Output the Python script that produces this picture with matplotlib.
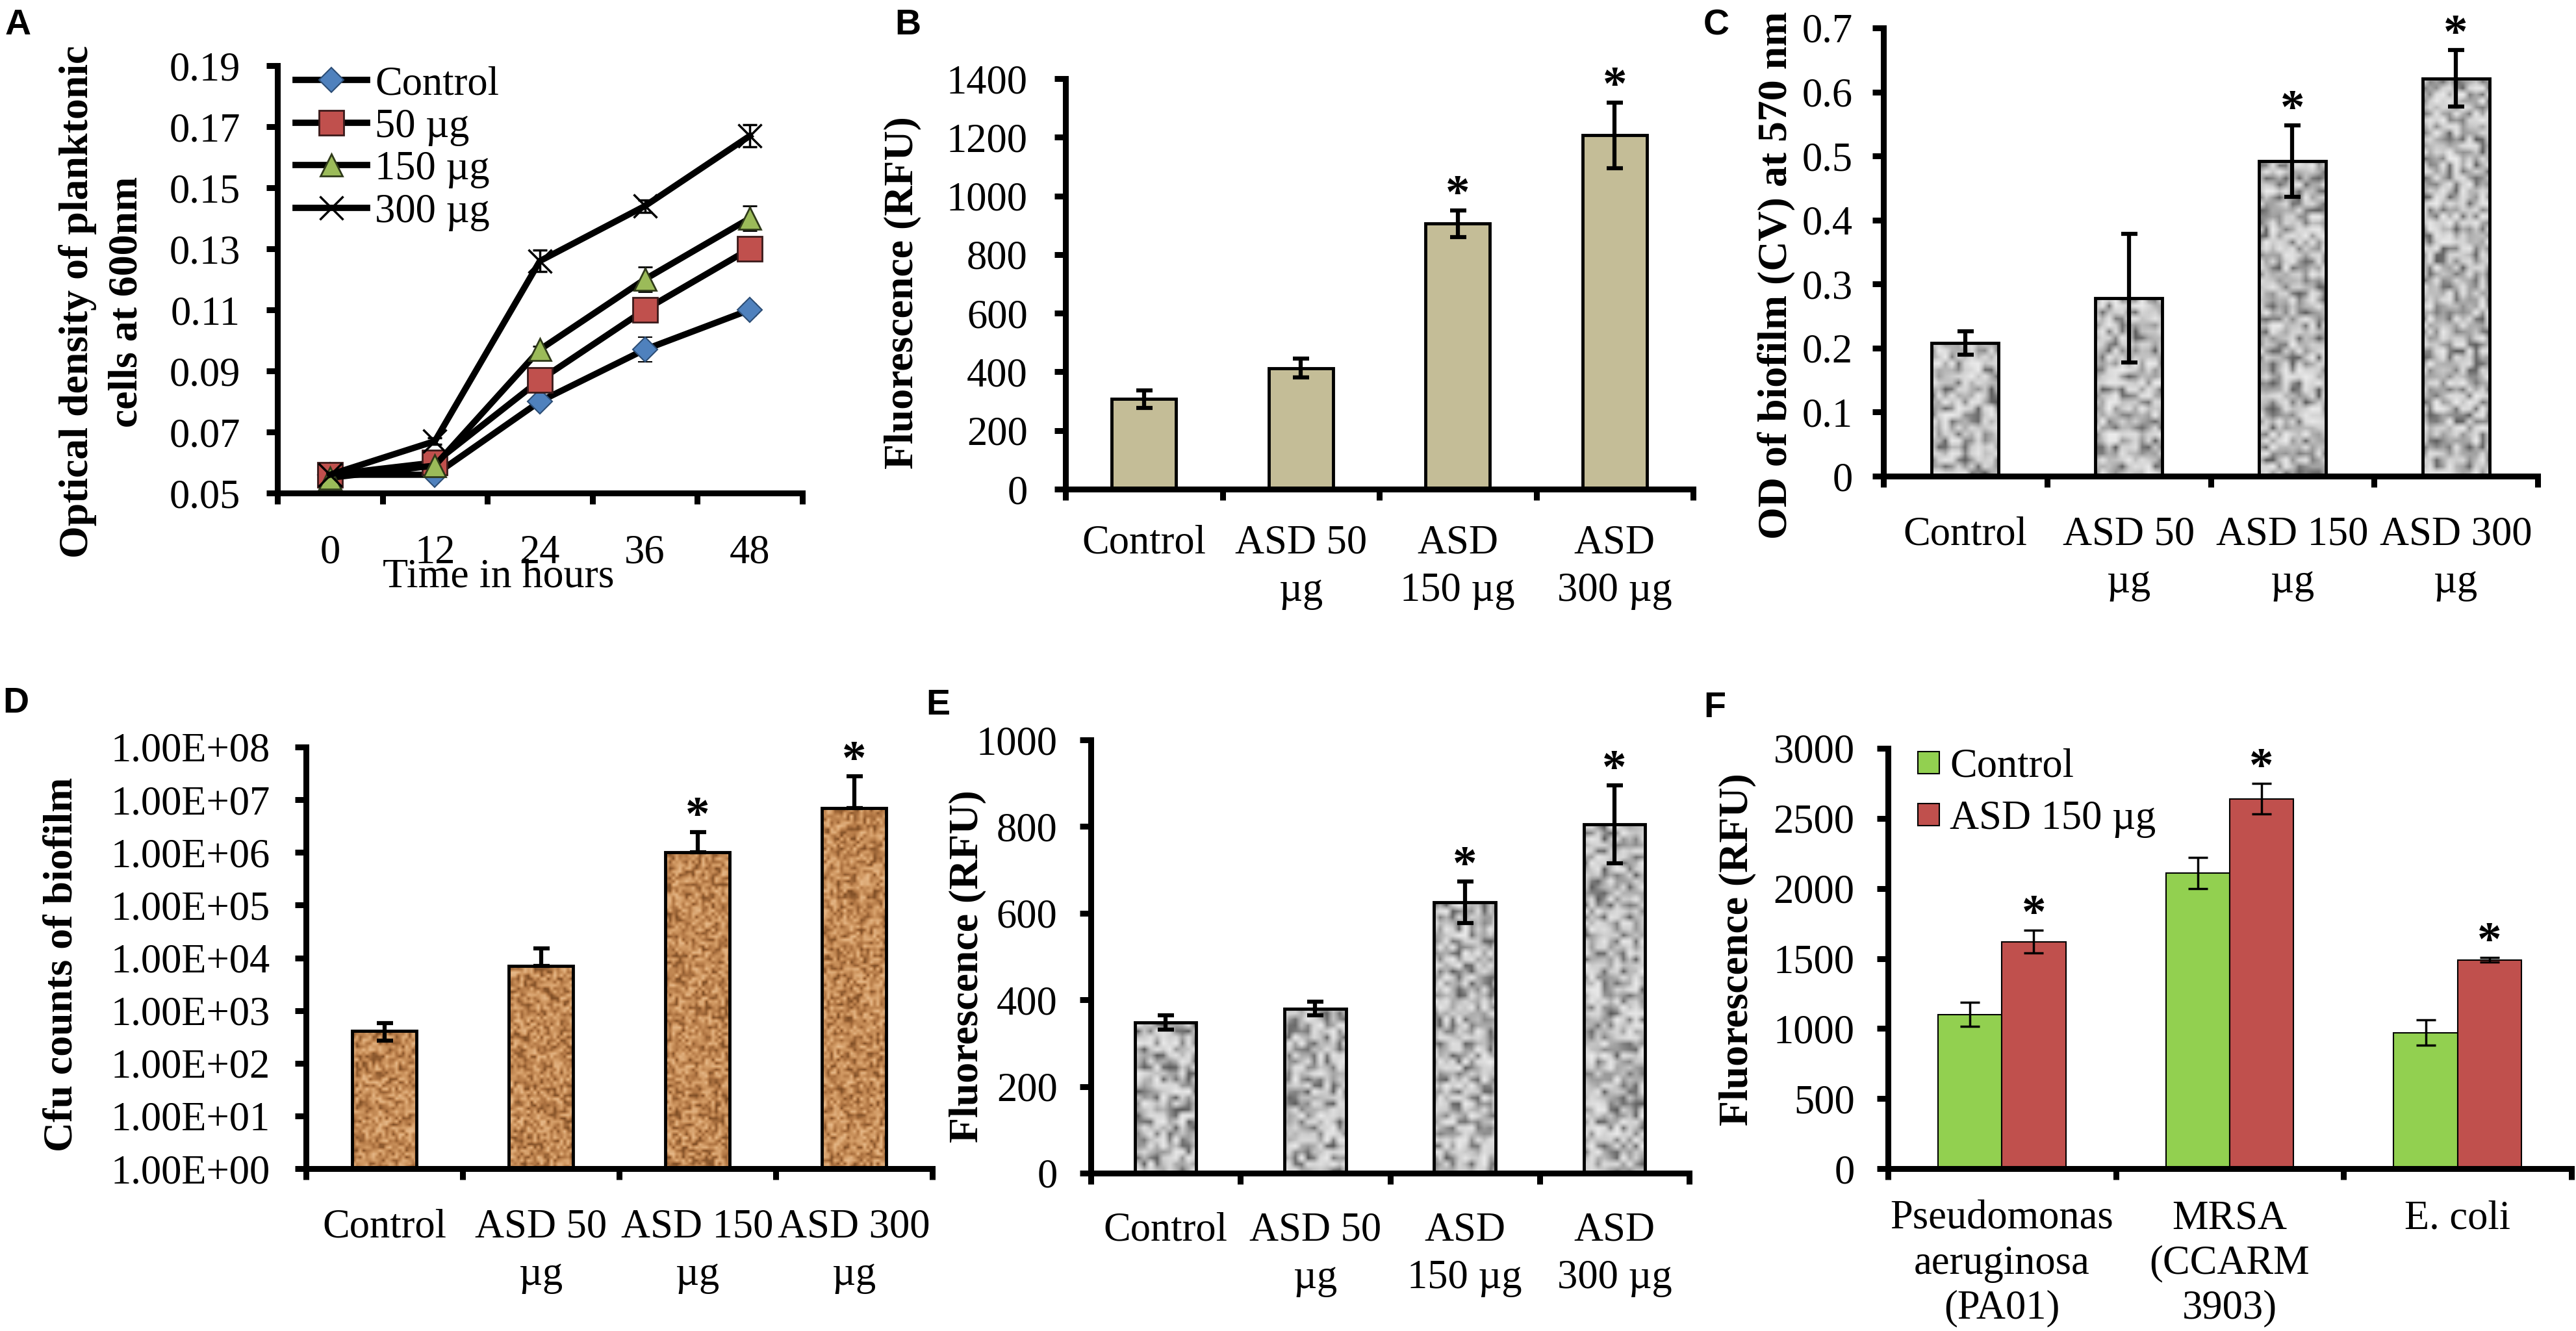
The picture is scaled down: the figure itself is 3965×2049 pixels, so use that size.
import numpy as np
import matplotlib
matplotlib.use('Agg')
import matplotlib.pyplot as plt
from matplotlib.colors import LinearSegmentedColormap
from matplotlib.lines import Line2D
from matplotlib.patches import Patch

plt.rcParams['font.family'] = ['Liberation Serif', 'DejaVu Serif']

W, H = 3965, 2049

# ---- panel A: growth of planktonic cells ----
hours = ['0', '12', '24', '36', '48']
od_control = [0.056, 0.056, 0.080, 0.097, 0.110]
od_50 = [0.056, 0.060, 0.087, 0.110, 0.130]
od_150 = [0.055, 0.059, 0.097, 0.120, 0.140]
od_300 = [0.056, 0.067, 0.126, 0.144, 0.167]
err_control = [0.001, 0.001, 0.001, 0.004, 0.002]
err_50 = [0.001, 0.002, 0.002, 0.002, 0.002]
err_150 = [0.001, 0.001, 0.001, 0.004, 0.004]
err_300 = [0.001, 0.001, 0.0035, 0.002, 0.0036]
series_labels = ['Control', '50 µg', '150 µg', '300 µg']

# ---- panels B-E: dose groups ----
dose_b = ['Control', 'ASD 50\nµg', 'ASD\n150 µg', 'ASD\n300 µg']
dose_c = ['Control', 'ASD 50\nµg', 'ASD 150\nµg', 'ASD 300\nµg']

fluor_b = [307, 413, 905, 1207]
fluor_b_err = [30, 33, 45, 112]

od_biofilm = [0.208, 0.278, 0.492, 0.621]
od_biofilm_err = [0.018, 0.10, 0.056, 0.044]

cfu = [415, 7.0e3, 1.0e6, 7.0e6]
cfu_err_low = [145, 0, 0, 0]
cfu_err_high = [160, 8.0e3, 1.4e6, 2.1e7]

fluor_e = [348, 380, 625, 805]
fluor_e_err = [17, 16, 48, 90]

# ---- panel F: strains ----
strains = ['Pseudomonas\naeruginosa\n(PA01)', 'MRSA\n(CCARM\n3903)', 'E. coli']
strain_control = [1100, 2110, 970]
strain_control_err = [85, 110, 90]
strain_asd = [1620, 2640, 1490]
strain_asd_err = [80, 110, 15]

stars_b = [2, 3]
stars_c = [2, 3]
stars_d = [2, 3]
stars_e = [2, 3]

TICK = 45
LAB = 46
LW = 6.5


def px_axes(fig, l, t, r, b):
    return fig.add_axes([l / W, 1 - b / H, (r - l) / W, (b - t) / H])


def style_axes(ax, n, xpad, ypad):
    for s in ['top', 'right']:
        ax.spines[s].set_visible(False)
    for s in ['left', 'bottom']:
        ax.spines[s].set_linewidth(LW)
        ax.spines[s].set_capstyle('projecting')
    ax.set_xlim(-0.5, n - 0.5)
    ax.set_xticks(np.arange(-0.5, n), minor=True)
    ax.tick_params(axis='x', which='major', length=0, pad=xpad, labelsize=TICK)
    ax.tick_params(axis='x', which='minor', length=12, width=LW, direction='out')
    ax.tick_params(axis='y', which='major', length=12, width=LW, pad=ypad,
                   labelsize=TICK, direction='out')
    ax.tick_params(axis='y', which='minor', length=0)


def ylab(ax, text, x, y):
    ax.set_ylabel(text, fontsize=LAB, fontweight='bold', va='center', ha='center',
                  linespacing=1.4)
    ax.yaxis.set_label_coords(x, y)


def grain(rows, cols, seed):
    i, j = np.mgrid[0:rows, 0:cols]
    v = np.sin(i * 12.9898 + j * 78.233 + seed * 3.7) * 43758.5453
    return v - np.floor(v)


gray_cmap = LinearSegmentedColormap.from_list('g', ['#585858', '#a0a0a0', '#cfcfcf', '#ececec'])
brown_cmap = LinearSegmentedColormap.from_list('b', ['#7a4a22', '#b27744', '#d19963', '#e8bb8b'])


def textured_bars(ax, heights, cmap, tex, bottom=0.0):
    x = np.arange(len(heights))
    h = np.asarray(heights, dtype=float) - bottom
    bars = ax.bar(x, h, 0.41, bottom=bottom, color=cmap(0.6), edgecolor='none', zorder=2)
    for bar in bars:
        im = ax.imshow(tex, cmap=cmap, extent=(0, 1, 0, 1), transform=ax.transAxes,
                       aspect='auto', interpolation='bilinear', zorder=2.2)
        im.set_clip_path(bar)
    ax.bar(x, h, 0.41, bottom=bottom, fill=False, edgecolor='black', linewidth=3.5, zorder=2.5)


def stars(ax, idx, vals, errs, dx=0.0):
    for k in idx:
        ax.annotate('*', (k + dx, vals[k] + errs[k]), xytext=(0, 3), textcoords='offset points',
                    ha='center', va='baseline', fontsize=54, fontweight='bold')


fig = plt.figure(figsize=(W / 100, H / 100), dpi=100)

# ---------------- A ----------------
ax = px_axes(fig, 427, 101, 1235, 759)
style_axes(ax, 5, 46, 29)
ax.set_ylim(0.05, 0.19)
ax.set_yticks(np.arange(0.05, 0.1901, 0.02), ['0.05', '0.07', '0.09', '0.11', '0.13', '0.15', '0.17', '0.19'])
ax.set_xticks(range(5), hours)
xa = np.arange(5)
styles = [
    (od_control, err_control, 'D', 19, '#4f81bd', '#2c4d75', 1.5),
    (od_50, err_50, 's', 27, '#c0504d', '#3a1a1a', 2.0),
    (od_150, err_150, '^', 24, '#9bbb59', '#2f3a1a', 2.0),
    (od_300, err_300, 'x', 26, 'black', 'black', 2.5),
]
handles = []
for vals, err, mk, ms, fc, ec, mew in styles:
    ax.errorbar(xa, vals, yerr=err, color='black', lw=7, marker=mk, ms=ms, mfc=fc, mec=ec,
                mew=mew, ecolor='black', elinewidth=2.5, capsize=8, capthick=2.5,
                clip_on=False, zorder=3)
    handles.append(Line2D([], [], color='black', lw=7, marker=mk, ms=ms, mfc=fc, mec=ec, mew=mew))
ax.legend(handles, series_labels, loc='upper left', bbox_to_anchor=(0.035, 1.0), frameon=False,
          fontsize=TICK, handlelength=1.75, handletextpad=0.2, labelspacing=0.12,
          borderpad=0, borderaxespad=0)
ylab(ax, 'Optical density of planktonic\ncells at 600nm', -0.334, 0.447)
ax.set_xlabel('Time in hours', fontsize=LAB, va='center', ha='center')
ax.xaxis.set_label_coords(0.421, -0.197)

# ---------------- B ----------------
ax = px_axes(fig, 1640, 121, 2606, 753)
style_axes(ax, 4, 39, 30)
ax.set_ylim(0, 1400)
ax.set_yticks(range(0, 1401, 200), [str(v) for v in range(0, 1401, 200)])
ax.set_xticks(range(4), dose_b)
ax.bar(range(4), fluor_b, 0.41, color='#c4bd97', edgecolor='black', linewidth=3.5, zorder=2)
ax.errorbar(range(4), fluor_b, yerr=fluor_b_err, fmt='none', ecolor='black', elinewidth=4.5,
            capsize=9, capthick=4.5, zorder=4)
stars(ax, stars_b, fluor_b, fluor_b_err)
ylab(ax, 'Fluorescence (RFU)', -0.259, 0.479)

# ---------------- C ----------------
ax = px_axes(fig, 2899, 43, 3906, 733)
style_axes(ax, 4, 44, 22)
ax.set_ylim(0, 0.7)
ax.set_yticks(np.arange(0, 0.701, 0.1), ['0', '0.1', '0.2', '0.3', '0.4', '0.5', '0.6', '0.7'])
ax.set_xticks(range(4), dose_c)
textured_bars(ax, od_biofilm, gray_cmap, grain(70, 100, 1))
ax.errorbar(range(4), od_biofilm, yerr=od_biofilm_err, fmt='none', ecolor='black', elinewidth=4.5,
            capsize=9, capthick=4.5, zorder=4)
stars(ax, stars_c, od_biofilm, od_biofilm_err)
ylab(ax, 'OD of biofilm (CV) at 570 nm', -0.164, 0.448)

# ---------------- D ----------------
ax = px_axes(fig, 471, 1150, 1435, 1799)
ax.set_yscale('log')
style_axes(ax, 4, 44, 28)
ax.set_ylim(1, 1e8)
ax.set_yticks([10.0 ** k for k in range(9)], ['1.00E+0%d' % k for k in range(9)])
ax.set_xticks(range(4), dose_c)
textured_bars(ax, cfu, brown_cmap, grain(130, 190, 2), bottom=1.0)
ax.errorbar(range(4), cfu, yerr=[cfu_err_low, cfu_err_high], fmt='none', ecolor='black',
            elinewidth=4.5, capsize=9, capthick=4.5, zorder=4)
stars(ax, stars_d, cfu, cfu_err_high)
ylab(ax, 'Cfu counts of biofilm', -0.390, 0.484)

# ---------------- E ----------------
ax = px_axes(fig, 1679, 1139, 2600, 1806)
style_axes(ax, 4, 43, 25)
ax.set_ylim(0, 1000)
ax.set_yticks(range(0, 1001, 200), [str(v) for v in range(0, 1001, 200)])
ax.set_xticks(range(4), dose_b)
textured_bars(ax, fluor_e, gray_cmap, grain(72, 95, 3))
ax.errorbar(range(4), fluor_e, yerr=fluor_e_err, fmt='none', ecolor='black', elinewidth=4.5,
            capsize=9, capthick=4.5, zorder=4)
stars(ax, stars_e, fluor_e, fluor_e_err)
ylab(ax, 'Fluorescence (RFU)', -0.206, 0.477)

# ---------------- F ----------------
ax = px_axes(fig, 2906, 1152, 3958, 1799)
style_axes(ax, 3, 35, 25)
ax.set_ylim(0, 3000)
ax.set_yticks(range(0, 3001, 500), [str(v) for v in range(0, 3001, 500)])
ax.set_xticks(range(3), strains)
xf = np.arange(3)
bw = 0.28
ax.bar(xf - bw / 2, strain_control, bw, color='#92d050', edgecolor='black', linewidth=1.5, zorder=2)
ax.bar(xf + bw / 2, strain_asd, bw, color='#c0504d', edgecolor='black', linewidth=1.5, zorder=2)
ax.errorbar(xf - bw / 2, strain_control, yerr=strain_control_err, fmt='none', ecolor='black',
            elinewidth=2.5, capsize=11, capthick=2.5, zorder=4)
ax.errorbar(xf + bw / 2, strain_asd, yerr=strain_asd_err, fmt='none', ecolor='black',
            elinewidth=2.5, capsize=11, capthick=2.5, zorder=4)
stars(ax, range(3), strain_asd, strain_asd_err, dx=bw / 2)
ax.legend([Patch(facecolor='#92d050', edgecolor='black', lw=1.5),
           Patch(facecolor='#c0504d', edgecolor='black', lw=1.5)],
          ['Control', 'ASD 150 µg'], loc='upper left', bbox_to_anchor=(0.044, 1.0),
          frameon=False, fontsize=TICK, handlelength=0.52, handleheight=0.46,
          handletextpad=0.26, labelspacing=0.35, borderpad=0, borderaxespad=0)
ylab(ax, 'Fluorescence (RFU)', -0.220, 0.522)

for a in fig.axes:
    for lab in a.get_xticklabels():
        lab.set_linespacing(1.35)
for lab in fig.axes[-1].get_xticklabels():
    lab.set_linespacing(1.25)

# panel letters
for letter, x, y in [('A', 8, 13), ('B', 1377, 13), ('C', 2622, 13),
                     ('D', 4, 1057), ('E', 1425, 1060), ('F', 2622, 1064)]:
    fig.text(x / W, 1 - y / H, letter, fontsize=40, fontweight='bold',
             family=['Liberation Sans', 'DejaVu Sans'], ha='left', va='top')

fig.savefig('out.png', dpi=100)
